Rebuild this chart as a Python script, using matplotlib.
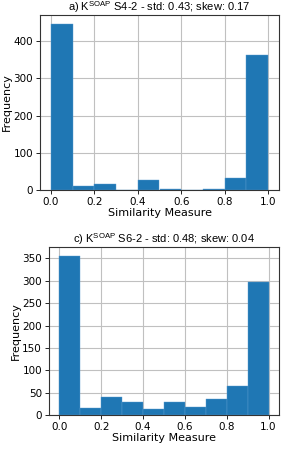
import matplotlib
matplotlib.use('Agg')
import matplotlib.pyplot as plt

bin_edges = [0.0, 0.1, 0.2, 0.3, 0.4, 0.5, 0.6, 0.7, 0.8, 0.9]
counts_s4 = [446, 10, 16, 0, 28, 2, 0, 2, 32, 364]
counts_s6 = [356, 16, 40, 28, 14, 30, 18, 36, 64, 298]
titles = [r'a) K$^{\mathrm{SOAP}}$ S4-2 - std: 0.43; skew: 0.17',
          r'c) K$^{\mathrm{SOAP}}$ S6-2 - std: 0.48; skew: 0.04']

plt.rcParams['font.family'] = 'DejaVu Sans'
plt.rcParams['mathtext.fontset'] = 'custom'
plt.rcParams['mathtext.rm'] = 'Liberation Sans'
plt.rcParams['mathtext.default'] = 'regular'

fig = plt.figure(figsize=(2.92, 4.55), dpi=100)
ax1 = fig.add_axes([40 / 292, 1 - 190 / 455, 239 / 292, 175 / 455])
ax2 = fig.add_axes([49 / 292, 1 - 415 / 455, 230 / 292, 168 / 455])

for ax, counts, title in [(ax1, counts_s4, titles[0]), (ax2, counts_s6, titles[1])]:
    ax.set_axisbelow(True)
    ax.grid(True, color='#c0c0c0', linewidth=0.8)
    ax.bar(bin_edges, counts, width=0.1, align='edge', color='#1f77b4',
           edgecolor='#5a9bd0', linewidth=0.3)
    ax.set_xlim(-0.05, 1.05)
    ax.set_ylim(0, max(counts) * 1.055)
    ax.set_xticks([0.0, 0.2, 0.4, 0.6, 0.8, 1.0])
    ax.tick_params(labelsize=7.5, length=3, width=0.6, pad=2)
    ax.set_xlabel('Similarity Measure', fontsize=8, labelpad=1)
    ax.set_ylabel('Frequency', fontsize=8, labelpad=1)
    ax.set_title(title, fontsize=8, pad=3, family='Liberation Sans')
    for s in ax.spines.values():
        s.set_color('#333333')
        s.set_linewidth(0.8)

ax2.set_yticks([0, 50, 100, 150, 200, 250, 300, 350])

fig.savefig('out.png', dpi=100)
